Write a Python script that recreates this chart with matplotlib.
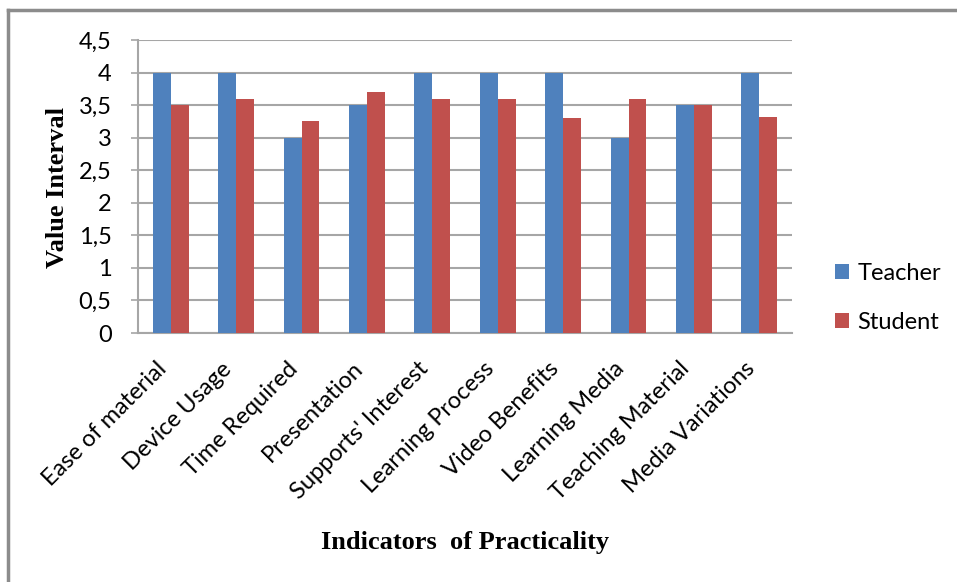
import matplotlib.pyplot as plt
import numpy as np
from matplotlib.lines import Line2D

indicators = [
    "Ease of material", "Device Usage", "Time Required", "Presentation",
    "Supports' Interest", "Learning Process", "Video Benefits",
    "Learning Media", "Teaching Material", "Media Variations",
]
teacher = [4, 4, 3, 3.5, 4, 4, 4, 3, 3.5, 4]
student = [3.5, 3.6, 3.25, 3.7, 3.6, 3.6, 3.3, 3.6, 3.5, 3.32]
yticks = [0, 0.5, 1, 1.5, 2, 2.5, 3, 3.5, 4, 4.5]
ytick_labels = ["0", "0,5", "1", "1,5", "2", "2,5", "3", "3,5", "4", "4,5"]

blue = "#4F81BD"
red = "#C0504D"
grid = "#A6A6A6"
sans = "Lato"
serif = "Liberation Serif"

fig = plt.figure(figsize=(9.57, 5.82), dpi=100)
ax = fig.add_axes([138 / 957, 1 - 333 / 582, 654 / 957, 293 / 582])

x = np.arange(len(indicators))
w = 0.275
ax.bar(x + 0.5 - w, teacher, w, align="edge", color=blue, label="Teacher",
       zorder=3)
ax.bar(x + 0.5, student, w, align="edge", color=red, label="Student",
       zorder=3)

ax.set_xlim(0, len(indicators))
ax.set_ylim(0, 4.5)
ax.set_yticks(yticks)
ax.set_yticklabels(ytick_labels, fontfamily=sans, fontsize=17)
ax.set_xticks(x + 0.5)
ax.set_xticklabels(indicators, rotation=45, ha="right", va="top",
                   fontfamily=sans, fontsize=17)
ax.tick_params(axis="x", length=0, pad=18)
ax.tick_params(axis="y", length=5, width=1.2, color=grid, pad=14)
ax.grid(axis="y", color=grid, linewidth=1.5, zorder=0)

for s in ["top", "right"]:
    ax.spines[s].set_visible(False)
for s in ["left", "bottom"]:
    ax.spines[s].set_color(grid)
    ax.spines[s].set_linewidth(1.5)

ax.set_xlabel("Indicators  of Practicality", fontfamily=serif,
              fontweight="bold", fontsize=19)
ax.xaxis.set_label_coords((465 - 138) / 654, (333 - 531) / 293)
ax.set_ylabel("Value Interval", fontfamily=serif, fontweight="bold",
              fontsize=19)
ax.yaxis.set_label_coords((69 - 138) / 654, (333 - 187) / 293)

fig.legend(loc="center left", bbox_to_anchor=(835 / 957, 1 - 298 / 582),
           frameon=False, prop={"family": sans, "size": 17},
           borderpad=0, borderaxespad=0,
           handlelength=0.6, handleheight=0.6, handletextpad=0.35,
           labelspacing=1.2)

# chart area frame (only top and left edges are visible)
fig.add_artist(Line2D([8 / 957, 8 / 957], [0, 1 - 10 / 582],
                      color="#8C8C8C", linewidth=2.5))
fig.add_artist(Line2D([8 / 957, 1], [1 - 10 / 582, 1 - 10 / 582],
                      color="#8C8C8C", linewidth=2.5))

fig.savefig("out.png", dpi=100)
